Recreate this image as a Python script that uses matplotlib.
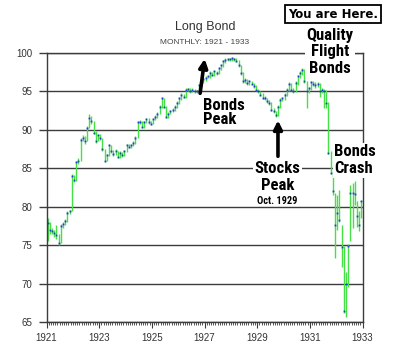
import numpy as np
import matplotlib
matplotlib.use("Agg")
import matplotlib.pyplot as plt
from matplotlib.ticker import MultipleLocator
from matplotlib import font_manager

# monthly long bond prices, Jan 1921 .. Dec 1932
close = [
    77.9, 77.0, 76.8, 76.6, 76.3, 75.3, 77.5, 77.8, 78.1, 79.2, 79.4, 84.0,
    83.5, 85.8, 86.0, 88.7, 88.9, 88.5, 90.3, 91.5, 91.2, 89.6, 88.5, 89.3,
    89.0, 87.5, 86.0, 86.7, 88.0, 87.2, 86.8, 87.3, 86.5, 87.0, 86.7, 87.2,
    88.0, 87.8, 88.0, 88.3, 89.0, 91.0, 91.0, 90.4, 91.0, 91.4, 91.0, 90.8,
    91.4, 91.7, 92.1, 93.0, 94.1, 93.0, 91.7, 92.1, 92.4, 92.6, 93.0, 93.5,
    94.1, 94.6, 94.3, 95.2, 95.3, 95.0, 95.2, 95.0, 95.0, 95.8, 96.3, 96.6,
    96.8, 97.0, 97.4, 97.2, 97.6, 97.4, 98.0, 98.4, 98.9, 99.1, 99.2, 99.2,
    99.3, 99.2, 99.0, 98.4, 97.4, 96.3, 96.5, 96.1, 96.3, 96.0, 95.7, 95.2,
    95.0, 94.6, 94.2, 94.1, 93.7, 93.5, 92.6, 92.4, 91.9, 93.0, 93.9, 94.1,
    94.6, 95.2, 96.0, 95.2, 95.0, 96.1, 97.0, 97.4, 97.8, 96.3, 95.0, 95.4,
    96.2, 96.0, 95.8, 96.0, 95.0, 95.2, 95.0, 93.5, 87.0, 84.4, 82.0, 77.6,
    79.2, 78.3, 74.8, 66.4, 69.9, 74.9, 81.8, 81.8, 81.6, 78.8, 77.6, 80.7,
]
low = [
    75.6, 76.4, 76.4, 76.0, 75.8, 75.0, 75.3, 77.2, 77.6, 78.0, 79.0, 79.5,
    83.2, 83.4, 85.6, 86.0, 88.5, 88.2, 88.5, 90.2, 90.8, 89.4, 88.3, 88.5,
    88.7, 87.3, 85.8, 85.9, 86.6, 87.0, 86.6, 86.7, 86.3, 86.4, 86.5, 86.6,
    87.1, 87.6, 87.7, 87.9, 88.2, 89.0, 90.7, 90.2, 90.3, 90.9, 90.8, 90.6,
    90.8, 91.3, 91.6, 92.0, 92.9, 92.8, 91.5, 91.6, 92.0, 92.3, 92.5, 92.9,
    93.4, 93.9, 94.1, 94.2, 95.0, 94.8, 94.9, 94.8, 94.8, 94.9, 95.6, 96.1,
    96.4, 96.7, 96.8, 97.0, 97.0, 97.2, 97.3, 97.8, 98.2, 98.7, 98.9, 99.0,
    99.0, 99.0, 98.8, 98.2, 97.2, 96.1, 96.1, 95.9, 95.9, 95.8, 95.5, 95.0,
    94.8, 94.4, 94.0, 93.9, 93.5, 93.2, 92.4, 92.2, 91.7, 91.8, 92.8, 93.7,
    93.9, 94.4, 95.0, 95.0, 94.8, 94.9, 95.9, 96.8, 97.2, 96.1, 92.9, 94.8,
    95.2, 95.7, 95.5, 95.6, 94.3, 94.8, 92.9, 92.8, 86.8, 84.2, 81.5, 73.3,
    77.0, 78.0, 72.2, 66.2, 65.7, 69.5, 75.5, 77.2, 80.2, 77.4, 76.8, 78.5,
]
high = [
    78.5, 78.0, 77.2, 77.0, 77.6, 76.5, 77.8, 78.0, 78.4, 79.4, 79.6, 84.2,
    84.1, 86.0, 86.3, 88.9, 89.3, 89.2, 90.5, 92.0, 91.8, 91.2, 89.8, 89.5,
    89.4, 89.0, 87.5, 86.9, 88.2, 88.0, 87.4, 87.5, 87.3, 87.2, 87.1, 87.4,
    88.2, 88.1, 88.2, 88.5, 89.2, 91.2, 91.3, 91.1, 91.2, 91.6, 91.5, 91.1,
    91.6, 91.9, 92.3, 93.2, 94.3, 94.2, 93.1, 92.3, 92.6, 92.8, 93.2, 93.7,
    94.3, 94.8, 94.7, 95.4, 95.5, 95.4, 95.4, 95.3, 95.2, 96.0, 96.5, 96.8,
    97.0, 97.2, 97.6, 97.5, 97.8, 97.7, 98.2, 98.6, 99.1, 99.3, 99.4, 99.4,
    99.5, 99.4, 99.3, 99.1, 98.5, 97.5, 96.7, 96.6, 96.5, 96.4, 96.1, 95.8,
    95.3, 95.1, 94.8, 94.4, 94.2, 93.9, 93.6, 92.8, 92.5, 93.2, 94.1, 94.3,
    94.8, 95.4, 96.2, 96.1, 95.4, 96.3, 97.2, 97.7, 98.0, 97.9, 96.4, 95.6,
    96.4, 96.4, 96.2, 96.2, 96.1, 95.4, 95.3, 95.2, 93.6, 87.2, 84.5, 81.8,
    81.5, 82.2, 77.6, 74.9, 71.5, 75.1, 82.8, 83.1, 83.3, 80.8, 79.5, 80.9,
]
first_year = 1921
last_year = 1933
y_ticks = [65, 70, 75, 80, 85, 90, 95, 100]
x_labels = [1921, 1923, 1925, 1927, 1929, 1931, 1933]

t = first_year + (np.arange(len(close)) + 0.5) / 12.0

plt.rcParams["font.family"] = ["Liberation Sans", "DejaVu Sans"]
fig = plt.figure(figsize=(4.0, 3.63), dpi=100)
ax = fig.add_axes([46.5 / 400, 1 - 322 / 363, 316 / 400, 269 / 363])

grey = "#3c3c3c"
ax.set_xlim(first_year, last_year)
ax.set_ylim(65, 100)
ax.set_yticks(y_ticks)
ax.set_xticks(x_labels)
ax.xaxis.set_minor_locator(MultipleLocator(1 / 12))
ax.grid(axis="y", color=grey, lw=1.0, zorder=1)
for s in ax.spines.values():
    s.set_color(grey)
    s.set_linewidth(1.0)
ax.tick_params(axis="y", length=6, width=1, color=grey, pad=4, labelsize=7, labelcolor="#333333")
ax.tick_params(axis="x", which="major", length=4, width=0.8, color=grey, pad=4, labelsize=7, labelcolor="#333333")
ax.tick_params(axis="x", which="minor", length=2.5, width=0.6, color=grey)

ax.vlines(t, low, high, color="#44e044", lw=1.0, zorder=2)
ax.plot(t, close, ls="none", marker="s", ms=1.3, mew=0, color="#2a3ad0", zorder=3)

fig.text(205 / 400, 1 - 27 / 363, "Long Bond", ha="center", va="center", fontsize=9, color="#333333")
fig.text(205 / 400, 1 - 43 / 363, "MONTHLY: 1921 - 1933", ha="center", va="center", fontsize=6, color="#444444")

fig.text(333 / 400, 1 - 14 / 363, "You are Here.", ha="center", va="center", fontsize=8.5,
         family="DejaVu Sans", fontweight="bold",
         bbox=dict(boxstyle="square,pad=0.25", fc="white", ec="black", lw=1.3))

# pick a narrow bold face for the callouts
names = {f.name for f in font_manager.fontManager.ttflist}
narrow = [n for n in ["Liberation Sans Narrow", "DejaVu Sans Condensed", "Roboto Condensed",
                      "Open Sans Condensed", "Roboto"] if n in names][:1] or ["DejaVu Sans"]
stretch = "condensed" if narrow[0] == "DejaVu Sans" else "normal"
size = 11.5 if narrow[0] == "Roboto" else 12
ann = dict(family=narrow, fontweight="bold", fontsize=size, fontstretch=stretch, color="black", zorder=6)
white = dict(boxstyle="square,pad=0.1", fc="white", ec="none")
arrow = dict(arrowstyle="-|>,head_length=0.5,head_width=0.25", lw=2.6, color="black")

ax.text(1926.94, 94.2, "Bonds\nPeak", ha="left", va="top", linespacing=0.95, **ann)
ax.annotate("", xy=(1927.02, 99.6), xytext=(1926.82, 94.4), arrowprops=arrow)

ax.text(1929.77, 85.9, "Stocks\nPeak", ha="center", va="top", linespacing=1.15, bbox=white, **ann)
ax.text(1929.77, 80.35, "Oct. 1929", ha="center", va="baseline", family=narrow, fontweight="bold",
        fontsize=7.5, color="black", zorder=6)
ax.annotate("", xy=(1929.79, 91.6), xytext=(1929.79, 86.2), arrowprops=arrow)

ax.text(1931.93, 88.1, "Bonds\nCrash", ha="left", va="top", linespacing=1.15, bbox=white, **ann)
ax.text(1931.77, 103.3, "Quality\nFlight\nBonds", ha="center", va="top", linespacing=1.12, bbox=white, **ann)

fig.savefig("out.png", dpi=100)
